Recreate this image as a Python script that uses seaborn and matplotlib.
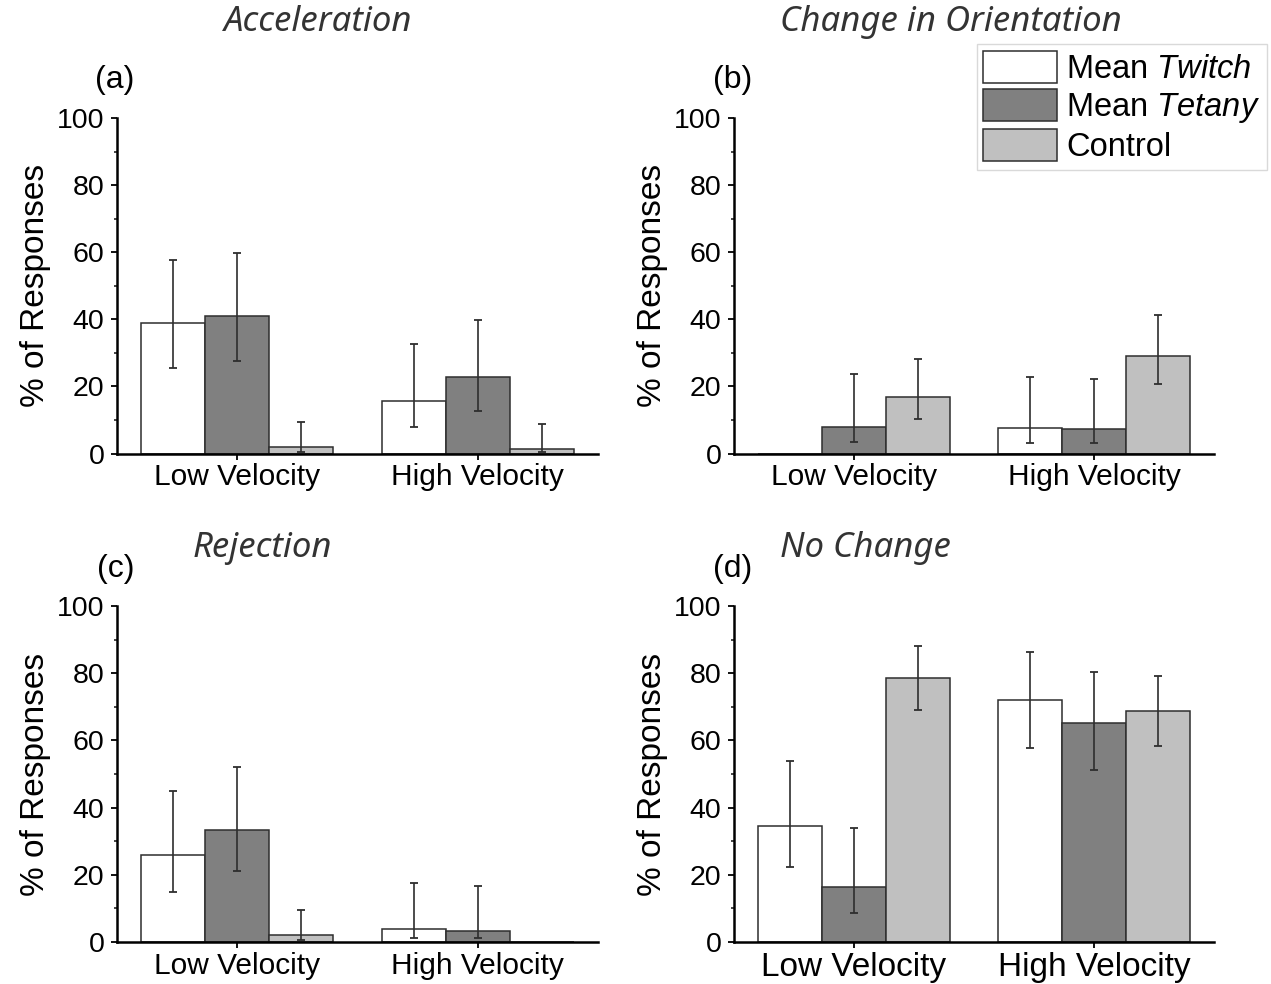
import numpy as np
import pandas as pd
import matplotlib
matplotlib.use("Agg")
import matplotlib.pyplot as plt
from matplotlib.ticker import MultipleLocator
from matplotlib.patches import Patch
import seaborn as sns

# ---------------- data ----------------
categories = ["Low Velocity", "High Velocity"]
series = ["Mean Twitch", "Mean Tetany", "Control"]
series_labels = ["Mean $\\mathit{Twitch}$", "Mean $\\mathit{Tetany}$", "Control"]
colors = ["#ffffff", "#808080", "#c0c0c0"]

titles = ["Acceleration", "Change in Orientation", "Rejection", "No Change"]
panel_tags = ["(a)", "(b)", "(c)", "(d)"]

# (a) Acceleration
acc_twitch = [38.8, 15.6]
acc_tetany = [41.1, 22.7]
acc_control = [1.8, 1.3]
acc_twitch_lo = [25.4, 7.8]
acc_tetany_lo = [27.7, 12.8]
acc_control_lo = [0.3, 0.3]
acc_twitch_hi = [57.7, 32.6]
acc_tetany_hi = [59.8, 39.9]
acc_control_hi = [9.3, 8.7]

# (b) Change in Orientation
ori_twitch = [0.0, 7.7]
ori_tetany = [8.0, 7.3]
ori_control = [16.8, 29.0]
ori_twitch_lo = [np.nan, 3.1]
ori_tetany_lo = [3.5, 3.1]
ori_control_lo = [10.3, 20.6]
ori_twitch_hi = [np.nan, 22.8]
ori_tetany_hi = [23.6, 22.1]
ori_control_hi = [28.2, 41.2]

# (c) Rejection
rej_twitch = [26.0, 3.9]
rej_tetany = [33.3, 3.4]
rej_control = [2.0, 0.0]
rej_twitch_lo = [14.8, 1.1]
rej_tetany_lo = [21.1, 1.1]
rej_control_lo = [0.7, np.nan]
rej_twitch_hi = [44.8, 17.6]
rej_tetany_hi = [52.1, 16.8]
rej_control_hi = [9.6, np.nan]

# (d) No Change
noc_twitch = [34.5, 71.9]
noc_tetany = [16.5, 65.1]
noc_control = [78.5, 68.7]
noc_twitch_lo = [22.2, 57.8]
noc_tetany_lo = [8.5, 51.3]
noc_control_lo = [69.0, 58.2]
noc_twitch_hi = [54.0, 86.2]
noc_tetany_hi = [34.0, 80.4]
noc_control_hi = [88.2, 79.3]

panels = [
    ([acc_twitch, acc_tetany, acc_control],
     [acc_twitch_lo, acc_tetany_lo, acc_control_lo],
     [acc_twitch_hi, acc_tetany_hi, acc_control_hi]),
    ([ori_twitch, ori_tetany, ori_control],
     [ori_twitch_lo, ori_tetany_lo, ori_control_lo],
     [ori_twitch_hi, ori_tetany_hi, ori_control_hi]),
    ([rej_twitch, rej_tetany, rej_control],
     [rej_twitch_lo, rej_tetany_lo, rej_control_lo],
     [rej_twitch_hi, rej_tetany_hi, rej_control_hi]),
    ([noc_twitch, noc_tetany, noc_control],
     [noc_twitch_lo, noc_tetany_lo, noc_control_lo],
     [noc_twitch_hi, noc_tetany_hi, noc_control_hi]),
]

# ---------------- style ----------------
sns.set_style("ticks")
plt.rcParams["font.family"] = ["Liberation Sans", "DejaVu Sans"]
plt.rcParams["mathtext.fontset"] = "custom"
plt.rcParams["mathtext.rm"] = "Liberation Sans"
plt.rcParams["mathtext.it"] = "Liberation Sans:italic"
plt.rcParams["text.color"] = "black"
plt.rcParams["axes.labelcolor"] = "black"

W, H = 1271, 984
fig = plt.figure(figsize=(W / 100, H / 100), dpi=100)

# axes rectangles in pixels: left, right, y(100), y(0)
rects = [
    (117, 598, 118, 453.5),
    (734, 1214, 118, 453.5),
    (117, 598, 606, 942),
    (734, 1214, 606, 942),
]
xt_sizes = [21.5, 21.5, 21.5, 24]
title_pos = [(318, 22), (951, 22), (262, 548), (865, 548)]
tag_pos = [(115, 80), (733, 80), (116, 569), (733, 569)]

palette = dict(zip(series, colors))

for i, (means, los, his) in enumerate(panels):
    l, r, t, b = rects[i]
    ax = fig.add_axes([l / W, 1 - b / H, (r - l) / W, (b - t) / H])
    rows = []
    for s, vals in zip(series, means):
        for c, v in zip(categories, vals):
            rows.append({"velocity": c, "series": s, "value": v})
    df = pd.DataFrame(rows)
    sns.barplot(data=df, x="velocity", y="value", hue="series",
                order=categories, hue_order=series, palette=palette,
                errorbar=None, width=0.8, edgecolor="#2e2e2e", linewidth=1.1,
                legend=False, ax=ax, zorder=2)
    # asymmetric error bars anchored to seaborn's bars
    for cont, lo_s, hi_s in zip(ax.containers, los, his):
        for bar, lo, hi in zip(cont, lo_s, hi_s):
            if np.isnan(lo) or np.isnan(hi):
                continue
            x = bar.get_x() + bar.get_width() / 2
            y = bar.get_height()
            ax.errorbar(x, y, yerr=[[y - lo], [hi - y]], fmt="none",
                        ecolor="#2e2e2e", elinewidth=1.2, capsize=3.2,
                        capthick=1.3, zorder=3)
    ax.set_xlim(-0.5, 1.5)
    ax.set_ylim(0, 100)
    ax.yaxis.set_major_locator(MultipleLocator(20))
    ax.yaxis.set_minor_locator(MultipleLocator(10))
    sns.despine(ax=ax)
    for sp in ["left", "bottom"]:
        ax.spines[sp].set_linewidth(1.8)
        ax.spines[sp].set_color("black")
    ax.tick_params(axis="y", which="major", length=4, width=1.3, labelsize=20.5,
                   pad=5, direction="out", colors="black")
    ax.tick_params(axis="y", which="minor", length=2, width=1.2, direction="out")
    ax.tick_params(axis="x", which="major", length=4, width=1.3,
                   labelsize=xt_sizes[i], pad=3, direction="out", colors="black")
    ax.set_xlabel("")
    ax.set_ylabel("% of Responses", fontsize=24, labelpad=4)
    ax.set_facecolor("white")

    tx, ty = title_pos[i]
    fig.text(tx / W, 1 - ty / H, titles[i], ha="center", va="center",
             fontsize=25, style="italic", color="#333333",
             family=["Noto Sans", "DejaVu Sans"])
    gx, gy = tag_pos[i]
    fig.text(gx / W, 1 - gy / H, panel_tags[i], ha="center", va="center",
             fontsize=23, color="black")

handles = [Patch(facecolor=c, edgecolor="#2e2e2e", linewidth=1.1) for c in colors]
fig.legend(handles, series_labels, loc="upper right",
           bbox_to_anchor=(1267 / W, 1 - 44 / H), frameon=True, fancybox=False,
           edgecolor="#d0d0d0", fontsize=23.5, handlelength=2.25,
           handleheight=1.15, labelspacing=0.12, handletextpad=0.3,
           borderpad=0.2, borderaxespad=0.0)

fig.savefig("out.png", dpi=100, facecolor="white")
